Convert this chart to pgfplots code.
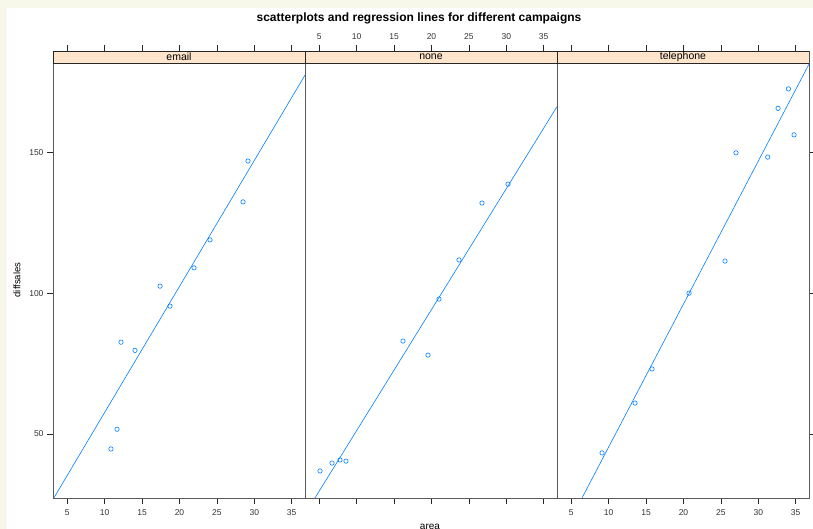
\documentclass[border=0pt]{standalone}
\usepackage{fontspec}
\setmainfont{Liberation Sans}
\usepackage{pgfplots}
\pgfplotsset{compat=1.18}
\definecolor{latblue}{HTML}{0080FF}
\definecolor{stripbg}{HTML}{FFE5CC}
\definecolor{pagebg}{HTML}{F8F8EA}
\definecolor{framegray}{HTML}{5A5A5A}

\pgfplotsset{
  panel/.style={
    scale only axis, width=252pt, height=447pt,
    xmin=3.09, xmax=36.78, ymin=27.3, ymax=185.96,
    axis line style={framegray, line width=0.8pt},
    tick align=outside, major tick length=6pt,
    tick style={black!85, line width=0.6pt},
    xtick={5,10,...,35}, ytick={50,100,150},
    ticklabel style={font=\fontsize{8.5}{9}\selectfont, text=black!80},
    xticklabel style={inner sep=5pt},
    /pgf/number format/assume math mode=true,
    anchor=south west,
  },
  pts/.style={only marks, mark=o, mark size=2.2pt, latblue, mark options={line width=0.6pt}},
  fit/.style={latblue, line width=0.6pt, no marks},
}
\tikzset{strip/.style={fill=stripbg, draw=black!85, line width=0.6pt}}

\begin{document}
\begin{tikzpicture}
% page background
\fill[white] (-53pt,-31pt) rectangle (760pt,498pt);
\fill[pagebg] (-53pt,-31pt) rectangle (-46pt,498pt);
\fill[pagebg] (-53pt,490pt) rectangle (760pt,498pt);

% email
\begin{axis}[panel, at={(0pt,0pt)},
  xtick pos=both, xticklabel pos=lower,
  ytick pos=left, yticklabel pos=left]
\addplot[fit] coordinates {(3.09,26.8) (36.78,177.4)};
\addplot[pts] coordinates {
  (29.16,146.9) (28.49,132.4) (24.08,118.9) (21.94,109.0) (17.40,102.5)
  (18.73,95.4) (12.18,82.6) (14.05,79.7) (11.65,51.7) (10.84,44.7)
};
\draw[strip] (axis cs:3.09,181.7) rectangle (axis cs:36.78,185.96);
\node[font=\fontsize{10.5}{11}\selectfont] at (axis cs:19.93,183.83) {email};
\end{axis}

% none
\begin{axis}[panel, at={(252pt,0pt)},
  xtick pos=both, xticklabel pos=upper,
  ytick=\empty]
\addplot[fit] coordinates {(3.09,21.6) (36.78,166.2)};
\addplot[pts] coordinates {
  (5.10,36.9) (6.70,39.7) (7.77,40.8) (8.57,40.4) (16.19,83.0)
  (19.53,78.0) (21.00,97.9) (23.68,111.8) (26.75,132.0) (30.23,138.7)
};
\draw[strip] (axis cs:3.09,181.7) rectangle (axis cs:36.78,185.96);
\node[font=\fontsize{10.5}{11}\selectfont] at (axis cs:19.93,183.83) {none};
\end{axis}

% telephone
\begin{axis}[panel, at={(504pt,0pt)},
  xtick pos=both, xticklabel pos=lower,
  ytick pos=right, yticklabels={}]
\addplot[fit] coordinates {(6.43,27.3) (36.78,181.3)};
\addplot[pts] coordinates {
  (9.11,43.3) (13.52,61.0) (15.79,73.1) (20.74,100.0) (25.55,111.4)
  (27.02,149.8) (31.26,148.3) (32.64,165.6) (34.02,172.5) (34.78,156.2)
};
\draw[strip] (axis cs:3.09,181.7) rectangle (axis cs:36.78,185.96);
\node[font=\fontsize{10.5}{11}\selectfont] at (axis cs:19.93,183.83) {telephone};
\end{axis}

% titles and labels
\node[font=\bfseries\fontsize{12}{14}\selectfont] at (366pt,480pt)
  {scatterplots and regression lines for different campaigns};
\node[font=\fontsize{9.5}{10}\selectfont, rotate=90] at (-36pt,218pt) {diffsales};
\node[font=\fontsize{10}{11}\selectfont, anchor=north, inner sep=0pt] at (377pt,-26pt) {area};

\pgfresetboundingbox
\path[use as bounding box] (-53pt,-31pt) rectangle (760pt,498pt);
\end{tikzpicture}
\end{document}
